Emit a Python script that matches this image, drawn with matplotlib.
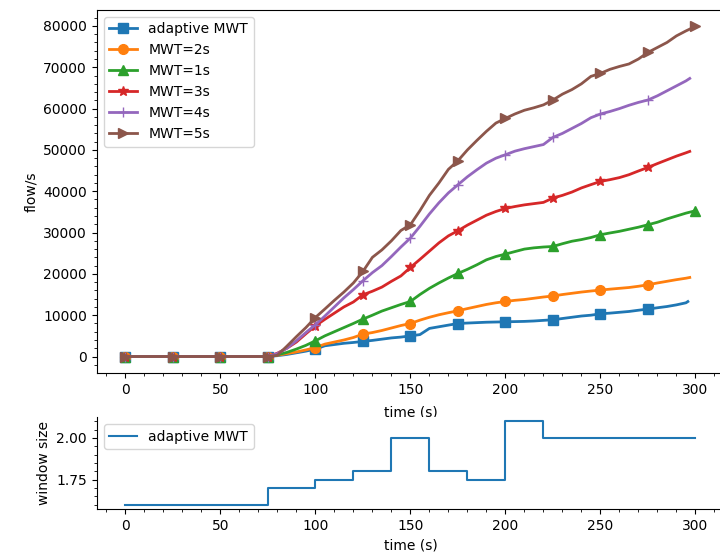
import matplotlib
matplotlib.use("Agg")
import matplotlib.pyplot as plt

# time grid of the flow curves
t_grid = [0, 25, 50, 75] + list(range(80, 300, 5))

# flow values on t_grid, plus the last sample of each run
flow_adaptive = [0, 0, 0, 0, 200, 500, 900, 1300, 1800, 2600, 2900, 3200, 3400, 3650,
                 3900, 4200, 4500, 4700, 5000, 5300, 6800, 7200, 7600, 7990, 8100, 8200,
                 8300, 8350, 8400, 8450, 8500, 8600, 8750, 8890, 9200, 9500, 9800, 10000,
                 10340, 10500, 10700, 10900, 11200, 11480, 11800, 12100, 12500, 13000]
flow_mwt2 = [0, 0, 0, 0, 300, 700, 1100, 1600, 2180, 3000, 3500, 4000, 4600, 5420,
             5800, 6300, 6900, 7500, 7990, 8800, 9500, 10100, 10600, 11070, 11600, 12100,
             12600, 13000, 13320, 13600, 13800, 14100, 14400, 14650, 15000, 15300, 15600,
             15850, 16080, 16300, 16500, 16700, 17000, 17360, 17800, 18200, 18600, 18950]
flow_mwt1 = [0, 0, 0, 0, 400, 1000, 1800, 2700, 3800, 5000, 6000, 7000, 8000, 9050,
             10000, 11000, 11800, 12600, 13320, 15000, 16500, 17800, 19000, 20100, 21100,
             22200, 23400, 24200, 24790, 25400, 26000, 26300, 26500, 26630, 27300, 27900,
             28300, 28800, 29470, 29900, 30300, 30800, 31300, 31890, 32500, 33300, 34000, 34700]
flow_mwt3 = [0, 0, 0, 0, 800, 2000, 3500, 5500, 7430, 9000, 10500, 12000, 13200, 14940,
             15800, 16800, 18200, 19500, 21550, 23500, 25500, 27500, 29200, 30440, 31800,
             33000, 34200, 35100, 35840, 36300, 36700, 37000, 37300, 38350, 39000, 39800,
             40800, 41600, 42370, 42800, 43300, 44000, 44900, 45760, 46700, 47600, 48500, 49300]
flow_mwt4 = [0, 0, 0, 0, 700, 2000, 3800, 5800, 7680, 9800, 12000, 14200, 16200, 18330,
             20300, 22000, 24200, 26500, 28670, 31500, 34500, 37200, 39600, 41570, 43500,
             45200, 46800, 48000, 48840, 49700, 50300, 50800, 51300, 53030, 54000, 55200,
             56400, 57800, 58690, 59300, 60000, 60800, 61500, 62080, 63100, 64300, 65500, 66700]
flow_mwt5 = [0, 0, 0, 0, 300, 2500, 4800, 7000, 9440, 11500, 13600, 15600, 17800, 20580,
             24000, 25800, 28000, 30500, 31890, 35300, 39000, 42000, 45300, 47380, 50000,
             52300, 54500, 56500, 57630, 58700, 59600, 60200, 60900, 62080, 63500, 64600,
             66000, 67800, 68520, 69500, 70200, 70800, 72000, 73600, 74800, 76000, 77600, 78800]

end_t = [296, 297, 300, 297, 297, 300]
end_v = [13300, 19130, 35280, 49640, 67300, 79900]

labels = ["adaptive MWT", "MWT=2s", "MWT=1s", "MWT=3s", "MWT=4s", "MWT=5s"]
markers = ["s", "o", "^", "*", "+", ">"]

# window size of the adaptive run
win_t = [0, 75, 100, 120, 140, 160, 180, 200, 220, 300]
win_size = [1.6, 1.7, 1.75, 1.8, 2.0, 1.8, 1.75, 2.1, 2.0, 2.0]

fig = plt.figure(figsize=(7.2, 5.57), dpi=100)
ax1 = fig.add_axes([0.1345, 0.3303, 0.871, 0.652])
ax2 = fig.add_axes([0.1345, 0.0862, 0.871, 0.1651])

all_flows = [flow_adaptive, flow_mwt2, flow_mwt1, flow_mwt3, flow_mwt4, flow_mwt5]
for i in range(len(all_flows)):
    ts = t_grid + [end_t[i]]
    vs = all_flows[i] + [end_v[i]]
    # markers every 25 s
    idx = [j for j in range(len(ts)) if ts[j] % 25 == 0]
    ax1.plot(ts, vs, marker=markers[i], markevery=idx, linewidth=2,
             markersize=7, label=labels[i])

ax1.set_ylabel("flow/s")
ax1.set_xlabel("time (s)", labelpad=6)
ax1.minorticks_on()
ax1.spines["right"].set_visible(False)  # cut off in the original
ax1.legend(loc="upper left")

ax2.step(win_t, win_size, where="post", label="adaptive MWT")
ax2.set_ylabel("window size")
ax2.set_xlabel("time (s)")
ax2.set_xlim(ax1.get_xlim())
ax2.set_yticks([1.75, 2.0])
ax2.minorticks_on()
ax2.spines["top"].set_visible(False)
ax2.spines["right"].set_visible(False)
ax2.legend(loc="upper left")

fig.savefig("out.png")
